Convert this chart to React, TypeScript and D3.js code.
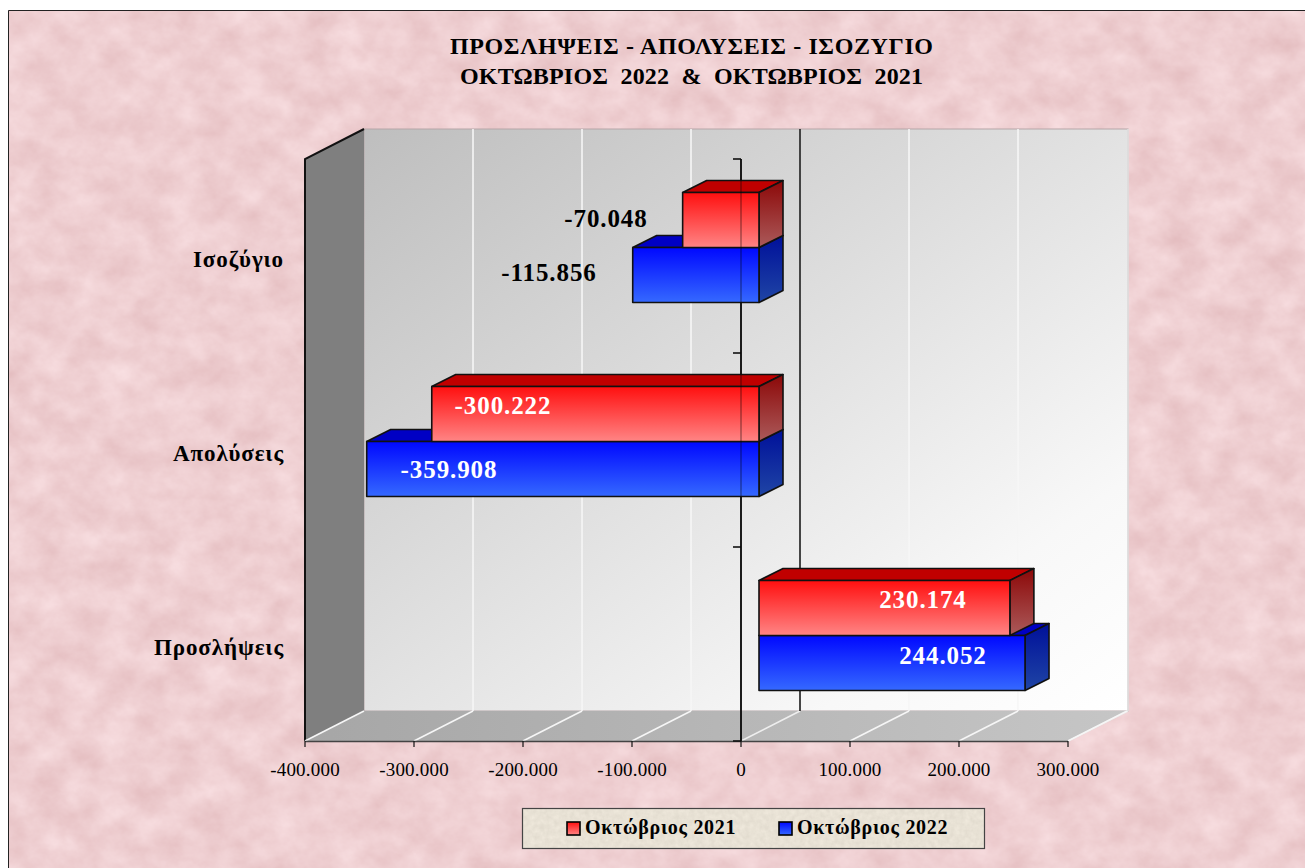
import React from "react";
import * as d3 from "d3";

const categories = ["Ισοζύγιο", "Απολύσεις", "Προσλήψεις"];
const seriesNames = ["Οκτώβριος 2021", "Οκτώβριος 2022"];
const values2021 = [-70048, -300222, 230174];
const values2022 = [-115856, -359908, 244052];
const xTicks = [-400000, -300000, -200000, -100000, 0, 100000, 200000, 300000];
const titleLines = ["ΠΡΟΣΛΗΨΕΙΣ - ΑΠΟΛΥΣΕΙΣ - ΙΣΟΖΥΓΙΟ", "ΟΚΤΩΒΡΙΟΣ  2022  &  ΟΚΤΩΒΡΙΟΣ  2021"];

const W = 1305, H = 868;
const plot = { left: 305, right: 1068, top: 159, bottom: 741 };
const wall = { dx: 59, dy: -30 };
const FONT = "'Liberation Serif', serif";

const x = d3.scaleLinear().domain([-400000, 300000]).range([plot.left, plot.right]);
const y = d3.scaleBand<string>().domain(categories).range([plot.top, plot.bottom]);
const fmt = (v: number) => d3.format(",")(v).replace(/,/g, ".").replace("−", "-");

const BAR_H = 55, BAR_TOP = 33.5, BAR_X = 18, DEPTH = { dx: 24, dy: -12 };
const poly = (pts: number[][]) => pts.map((p) => p.join(",")).join(" ");

function Bar({ v, top, fill }: { v: number; top: number; fill: string }) {
  const x0 = x(0) + BAR_X, x1 = x(v) + BAR_X;
  const l = Math.min(x0, x1), r = Math.max(x0, x1), b = top + BAR_H;
  const { dx, dy } = DEPTH;
  return (
    <g stroke="#111" strokeWidth={1.6} strokeLinejoin="round">
      <polygon points={poly([[l, top], [l + dx, top + dy], [r + dx, top + dy], [r, top]])} fill={`url(#top-${fill})`} />
      <polygon points={poly([[r, top], [r + dx, top + dy], [r + dx, b + dy], [r, b]])} fill={`url(#side-${fill})`} />
      <rect x={l} y={top} width={r - l} height={BAR_H} fill={`url(#front-${fill})`} />
    </g>
  );
}

export default function App() {
  const wallL = plot.left + wall.dx, wallR = plot.right + wall.dx + 1;
  const wallT = plot.top + wall.dy, wallB = plot.bottom + wall.dy;
  const valueLabels = [
    { v: values2021[0], cx: 606, cy: 227, c: "#000" },
    { v: values2022[0], cx: 549, cy: 281, c: "#000" },
    { v: values2021[1], cx: 503, cy: 414, c: "#fff" },
    { v: values2022[1], cx: 449, cy: 478, c: "#fff" },
    { v: values2021[2], cx: 923, cy: 608, c: "#fff" },
    { v: values2022[2], cx: 943, cy: 664, c: "#fff" },
  ];
  return (
    <svg width={W} height={H} viewBox={`0 0 ${W} ${H}`}
      style={{ position: "absolute", left: 0, top: 0, display: "block", background: "#fff" }}>
      <defs>
        <filter id="pinkTex" x="0" y="0" width="100%" height="100%" colorInterpolationFilters="sRGB">
          <feTurbulence type="fractalNoise" baseFrequency="0.03 0.036" numOctaves={5} seed={7} />
          <feColorMatrix type="matrix"
            values="0.09 0 0 0 0.89  0.15 0 0 0 0.735  0.15 0 0 0 0.745  0 0 0 0 1" />
        </filter>
        <filter id="beigeTex" x="0" y="0" width="100%" height="100%" colorInterpolationFilters="sRGB">
          <feTurbulence type="fractalNoise" baseFrequency="0.2" numOctaves={3} seed={3} />
          <feColorMatrix type="matrix"
            values="0.07 0 0 0 0.875  0.07 0 0 0 0.85  0.07 0 0 0 0.80  0 0 0 0 1" />
        </filter>
        <linearGradient id="wallGrad" x1="0" y1="0" x2="1" y2="1">
          <stop offset="0" stopColor="#bebebe" />
          <stop offset="0.8" stopColor="#f8f8f8" />
          <stop offset="1" stopColor="#ffffff" />
        </linearGradient>
        <linearGradient id="floorGrad" x1="0" y1="0" x2="1" y2="0">
          <stop offset="0" stopColor="#a6a6a6" />
          <stop offset="1" stopColor="#c6c6c6" />
        </linearGradient>
        <linearGradient id="front-red" x1="0" y1="0" x2="0" y2="1">
          <stop offset="0" stopColor="#ff0f0f" />
          <stop offset="1" stopColor="#ff8585" />
        </linearGradient>
        <linearGradient id="front-blue" x1="0" y1="0" x2="0" y2="1">
          <stop offset="0" stopColor="#0008ff" />
          <stop offset="1" stopColor="#3569ff" />
        </linearGradient>
        <linearGradient id="side-red" x1="0" y1="0" x2="0" y2="1">
          <stop offset="0" stopColor="#8c0808" />
          <stop offset="1" stopColor="#ab5a5a" />
        </linearGradient>
        <linearGradient id="side-blue" x1="0" y1="0" x2="0" y2="1">
          <stop offset="0" stopColor="#00109a" />
          <stop offset="1" stopColor="#1f45a5" />
        </linearGradient>
        <linearGradient id="top-red"><stop stopColor="#c00000" /></linearGradient>
        <linearGradient id="top-blue"><stop stopColor="#0000c4" /></linearGradient>
      </defs>

      <rect x={8} y={10} width={W - 8} height={H - 10} fill="#efcfd1" filter="url(#pinkTex)" />
      <path d={`M8.5 ${H}V10.5H${W}`} fill="none" stroke="#222" strokeWidth={1} />

      <g fontFamily={FONT} fontWeight="bold" fontSize={24} textAnchor="middle" fill="#000">
        {titleLines.map((t, i) => (
          <text key={i} x={691.5} y={54 + i * 30} style={{ whiteSpace: "pre" }} textLength={i === 0 ? 483 : 463} lengthAdjust="spacing">{t}</text>
        ))}
      </g>

      {/* back wall, floor, side wall */}
      <rect x={wallL} y={wallT} width={wallR - wallL} height={wallB - wallT} fill="url(#wallGrad)" stroke="#b5a6a8" strokeWidth={1} />
      <polygon points={poly([[plot.left, plot.bottom], [wallL, wallB], [wallR, wallB], [plot.right, plot.bottom]])} fill="url(#floorGrad)" />
      <line x1={wallR} y1={wallB} x2={plot.right} y2={plot.bottom} stroke="#e8e8e8" strokeWidth={1.5} />
      <line x1={wallR} y1={wallT} x2={wallR} y2={wallB} stroke="#e4e4e4" strokeWidth={1.5} />
      <polygon points={poly([[plot.left, plot.top], [wallL, wallT], [wallL, wallB], [plot.left, plot.bottom]])} fill="#7f7f7f" />
      <path d={`M${plot.left} ${plot.bottom}V${plot.top}L${wallL} ${wallT}`} fill="none" stroke="#111" strokeWidth={2} />

      {xTicks.filter((t) => t !== 0).map((t) => (
        <g key={t} stroke="#f6f6f6" strokeWidth={1.6}>
          {t > -400000 && t < 300000 && <line x1={x(t) + wall.dx} x2={x(t) + wall.dx} y1={wallT} y2={wallB} />}
          <line x1={x(t)} x2={x(t) + wall.dx} y1={plot.bottom} y2={wallB} />
        </g>
      ))}
      <line x1={x(0)} y1={plot.bottom} x2={x(0) + wall.dx} y2={wallB} stroke="#eee" strokeWidth={1.6} />
      <line x1={x(0) + wall.dx} x2={x(0) + wall.dx} y1={wallT} y2={wallB} stroke="#333" strokeWidth={1.8} />

      {/* axes */}
      <line x1={plot.left} x2={plot.right} y1={plot.bottom + 0.5} y2={plot.bottom + 0.5} stroke="#444" strokeWidth={1.4} />
      {xTicks.map((t) => (
        <line key={t} x1={x(t)} x2={x(t)} y1={plot.bottom} y2={plot.bottom + 6} stroke="#111" strokeWidth={1.2} />
      ))}
      <line x1={x(0)} x2={x(0)} y1={plot.top} y2={plot.bottom} stroke="#111" strokeWidth={1.8} />
      {[...categories.map((c) => y(c) as number), plot.bottom].map((py) => (
        <line key={py} x1={x(0) - 8} x2={x(0)} y1={py} y2={py} stroke="#111" strokeWidth={1.6} />
      ))}

      {/* bars */}
      {categories.map((c, i) => (
        <g key={c}>
          <Bar v={values2022[i]} top={(y(c) as number) + BAR_TOP + BAR_H} fill="blue" />
          <Bar v={values2021[i]} top={(y(c) as number) + BAR_TOP} fill="red" />
        </g>
      ))}
      {/* the axis shows faintly through the bars */}
      <line x1={x(0)} x2={x(0)} y1={plot.top} y2={plot.bottom} stroke="#000" strokeOpacity={0.3} strokeWidth={1.8} />

      {/* value labels */}
      <g fontFamily={FONT} fontWeight="bold" fontSize={25} textAnchor="middle" style={{ letterSpacing: "0.9px" }}>
        {valueLabels.map((d) => (
          <text key={d.v} x={d.cx} y={d.cy} fill={d.c}>{fmt(d.v)}</text>
        ))}
      </g>

      {/* category labels */}
      <g fontFamily={FONT} fontWeight="bold" fontSize={23} textAnchor="end" fill="#000" style={{ letterSpacing: "0.9px" }}>
        {categories.map((c) => (
          <text key={c} x={284} y={(y(c) as number) + 107.5}>{c}</text>
        ))}
      </g>

      {/* x tick labels */}
      <g fontFamily={FONT} fontSize={19} textAnchor="middle" fill="#000" style={{ letterSpacing: "0.2px" }}>
        {xTicks.map((t) => (
          <text key={t} x={x(t)} y={776}>{fmt(t)}</text>
        ))}
      </g>

      {/* legend */}
      <rect x={522} y={808} width={462} height={40} fill="#e8e2d6" filter="url(#beigeTex)" />
      <rect x={522.5} y={808.5} width={462} height={40} fill="none" stroke="#444" strokeWidth={1.2} />
      {seriesNames.map((s, i) => {
        const lx = 567 + i * 212;
        const col = i === 0 ? "red" : "blue";
        return (
          <g key={s}>
            <rect x={lx} y={822} width={13} height={13} fill={`url(#front-${col})`} stroke="#000" strokeWidth={1.6} />
            <text x={lx + 18} y={834} fontFamily={FONT} fontWeight="bold" fontSize={20} fill="#000" style={{ letterSpacing: "0.7px" }}>{s}</text>
          </g>
        );
      })}
    </svg>
  );
}
